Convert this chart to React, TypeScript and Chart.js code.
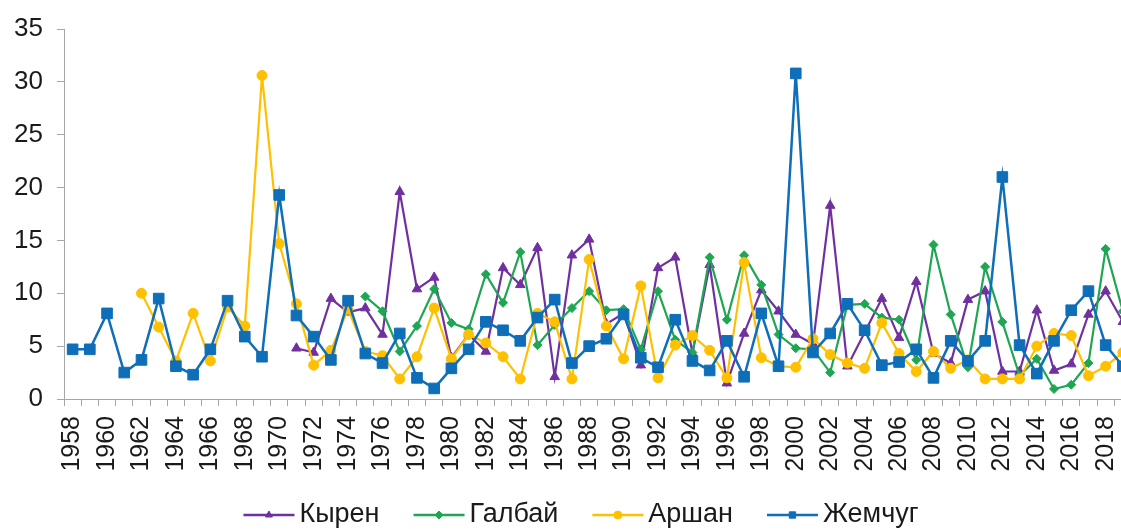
import React, { useEffect, useRef } from 'react';
import { Chart, registerables } from 'chart.js';
import { drawPoint } from 'chart.js/helpers';

Chart.register(...registerables);

const years: string[] = [
  '1958', '1959', '1960', '1961', '1962', '1963', '1964', '1965', '1966', '1967',
  '1968', '1969', '1970', '1971', '1972', '1973', '1974', '1975', '1976', '1977',
  '1978', '1979', '1980', '1981', '1982', '1983', '1984', '1985', '1986', '1987',
  '1988', '1989', '1990', '1991', '1992', '1993', '1994', '1995', '1996', '1997',
  '1998', '1999', '2000', '2001', '2002', '2003', '2004', '2005', '2006', '2007',
  '2008', '2009', '2010', '2011', '2012', '2013', '2014', '2015', '2016', '2017',
  '2018', '2019',
];

// 1958-1970 empty, data from 1971
const kyren: (number | null)[] = [
  null, null, null, null, null, null, null, null, null, null, null, null, null,
  4.8, 4.4, 9.5, 8.2, 8.6, 6.1, 19.6, 10.4, 11.5, 3.9,
  6.1, 4.5, 12.4, 10.8, 14.3, 2.1, 13.6, 15.1, 7.1, 8.1,
  3.2, 12.4, 13.4, 4.3, 12.7, 1.5, 6.2, 10.3, 8.3, 6.1,
  5.2, 18.3, 3.1, 6.3, 9.5, 5.8, 11.1, 4.3, 3.4, 9.4,
  10.2, 2.6, 2.6, 8.4, 2.7, 3.3, 8.0, 10.2, 7.3,
];

// 1958-1974 empty, data from 1975
const galbay: (number | null)[] = [
  null, null, null, null, null, null, null, null, null, null,
  null, null, null, null, null, null, null,
  9.7, 8.3, 4.5, 6.9, 10.4, 7.2, 6.6, 11.8, 9.1, 13.9,
  5.1, 7.0, 8.6, 10.2, 8.4, 8.5, 4.7, 10.2, 5.6, 4.4,
  13.4, 7.5, 13.6, 10.8, 6.1, 4.8, 4.7, 2.5, 8.9, 9.0,
  7.7, 7.5, 3.7, 14.6, 8.0, 3.0, 12.5, 7.3, 2.2, 3.8,
  0.95, 1.35, 3.4, 14.2, 8.3,
];

// 1958-1961 empty, data from 1962
const arshan: (number | null)[] = [
  null, null, null, null,
  10.0, 6.8, 3.6, 8.1, 3.6, 8.7, 6.9, 30.6, 14.7, 9.0,
  3.2, 4.6, 8.5, 4.5, 4.1, 1.9, 4.0, 8.6, 3.8, 6.1,
  5.3, 4.0, 1.9, 8.1, 7.3, 1.9, 13.2, 6.9, 3.8, 10.7,
  2.0, 5.1, 6.0, 4.6, 2.0, 12.9, 3.9, 3.1, 3.0, 5.7,
  4.2, 3.4, 2.9, 7.2, 4.3, 2.6, 4.5, 2.9, 3.7, 1.9,
  1.9, 1.9, 5.0, 6.2, 6.0, 2.2, 3.1, 4.4,
];

const zhemchug: number[] = [
  4.7, 4.7, 8.1, 2.5, 3.7, 9.5, 3.1, 2.3, 4.7, 9.3,
  5.9, 4.0, 19.3, 7.9, 5.9, 3.7, 9.3, 4.3, 3.4, 6.2,
  2.0, 1.0, 2.9, 4.7, 7.3, 6.5, 5.5, 7.7, 9.4, 3.4,
  5.0, 5.7, 8.0, 3.9, 3.0, 7.5, 3.6, 2.7, 5.5, 2.1,
  8.1, 3.1, 30.8, 4.4, 6.2, 9.0, 6.5, 3.2, 3.5, 4.7,
  2.0, 5.5, 3.6, 5.5, 21.0, 5.1, 2.4, 5.5, 8.4, 10.2,
  5.1, 3.1,
];

const seriesNames = ['Кырен', 'Галбай', 'Аршан', 'Жемчуг'];
const yTicks = [0, 5, 10, 15, 20, 25, 30, 35];

const FONT = '"Liberation Sans", Arial, sans-serif';
const X_FONT_SIZE = 25;
const Y_FONT_SIZE = 26;
const LEGEND_FONT_SIZE = 27;
const TEXT_COLOR = '#1a1a1a';
const AXIS_COLOR = '#a6a6a6';

const COLORS = {
  kyren: '#7030A0',
  galbay: '#1FA653',
  arshan: '#FFC000',
  zhemchug: '#0E6EB8',
};

const LEGEND_CX = 581;
const LEGEND_Y = 515;
const LEGEND_LINE = 51;
const LEGEND_TEXT_GAP = 5;
const LEGEND_ITEM_GAP = 34;

const legendPlugin = {
  id: 'excelLegend',
  afterDraw(chart: any) {
    const ctx = chart.ctx as CanvasRenderingContext2D;
    ctx.save();
    ctx.font = `${LEGEND_FONT_SIZE}px ${FONT}`;
    const items = chart.data.datasets.map((ds: any) => ({
      label: ds.label as string,
      color: ds.borderColor as string,
      style: ds.pointStyle as string,
      w: ctx.measureText(ds.label).width,
    }));
    const total =
      items.reduce((s: number, it: any) => s + LEGEND_LINE + LEGEND_TEXT_GAP + it.w, 0) +
      LEGEND_ITEM_GAP * (items.length - 1);
    let x = LEGEND_CX - total / 2;
    const y = LEGEND_Y;
    for (const it of items) {
      ctx.strokeStyle = it.color;
      ctx.lineWidth = 2.5;
      ctx.beginPath();
      ctx.moveTo(x, y);
      ctx.lineTo(x + LEGEND_LINE, y);
      ctx.stroke();
      ctx.fillStyle = it.color;
      ctx.strokeStyle = it.color;
      ctx.lineWidth = 1;
      drawPoint(
        ctx,
        { pointStyle: it.style, radius: it.style === 'rect' ? 4.5 : 4, rotation: 0, borderWidth: 1 } as any,
        x + LEGEND_LINE / 2,
        y
      );
      ctx.fillStyle = TEXT_COLOR;
      ctx.textBaseline = 'middle';
      ctx.textAlign = 'left';
      ctx.fillText(it.label, x + LEGEND_LINE + LEGEND_TEXT_GAP, y);
      x += LEGEND_LINE + LEGEND_TEXT_GAP + it.w + LEGEND_ITEM_GAP;
    }
    ctx.restore();
  },
};

export default function App() {
  const canvasRef = useRef<HTMLCanvasElement | null>(null);

  useEffect(() => {
    if (!canvasRef.current) return;
    const chart = new Chart(canvasRef.current, {
      type: 'line',
      data: {
        labels: years,
        datasets: [
          {
            label: seriesNames[0],
            data: kyren,
            borderColor: COLORS.kyren,
            backgroundColor: COLORS.kyren,
            pointBackgroundColor: COLORS.kyren,
            pointBorderColor: COLORS.kyren,
            pointStyle: 'triangle',
            pointRadius: 5.5,
            borderWidth: 2.2,
            pointBorderWidth: 1,
            order: 4,
          },
          {
            label: seriesNames[1],
            data: galbay,
            borderColor: COLORS.galbay,
            backgroundColor: COLORS.galbay,
            pointBackgroundColor: COLORS.galbay,
            pointBorderColor: COLORS.galbay,
            pointStyle: 'rectRot',
            pointRadius: 4.5,
            borderWidth: 2.2,
            pointBorderWidth: 1,
            order: 3,
          },
          {
            label: seriesNames[2],
            data: arshan,
            borderColor: COLORS.arshan,
            backgroundColor: COLORS.arshan,
            pointBackgroundColor: COLORS.arshan,
            pointBorderColor: COLORS.arshan,
            pointStyle: 'circle',
            pointRadius: 5,
            borderWidth: 2.2,
            pointBorderWidth: 1,
            order: 2,
          },
          {
            label: seriesNames[3],
            data: zhemchug,
            borderColor: COLORS.zhemchug,
            backgroundColor: COLORS.zhemchug,
            pointBackgroundColor: COLORS.zhemchug,
            pointBorderColor: COLORS.zhemchug,
            pointStyle: 'rect',
            pointRadius: 7.5,
            borderWidth: 2.5,
            pointBorderWidth: 1,
            order: 1,
          },
        ],
      },
      options: {
        responsive: false,
        animation: false,
        events: [],
        layout: { padding: { left: 15, right: 8, top: 29, bottom: 56 } },
        plugins: {
          legend: { display: false },
          tooltip: { enabled: false },
          title: { display: false },
        },
        elements: { line: { tension: 0 } },
        scales: {
          x: {
            type: 'category',
            offset: true,
            grid: {
              display: true,
              offset: true,
              drawOnChartArea: false,
              drawTicks: true,
              tickLength: 7,
              color: AXIS_COLOR,
              lineWidth: 1,
            },
            border: { display: true, color: AXIS_COLOR, width: 1 },
            afterFit: (scale: any) => {
              scale.height = 74;
              scale.paddingLeft = 0;
              scale.paddingRight = 0;
            },
            ticks: {
              autoSkip: false,
              maxRotation: 90,
              minRotation: 90,
              padding: 10,
              color: TEXT_COLOR,
              font: { family: FONT, size: X_FONT_SIZE },
              callback: (_v: any, idx: number) => (idx % 2 === 0 ? years[idx] : ''),
            },
          },
          y: {
            min: yTicks[0],
            max: yTicks[yTicks.length - 1],
            grid: {
              display: true,
              drawOnChartArea: false,
              drawTicks: true,
              tickLength: 7,
              color: AXIS_COLOR,
              lineWidth: 1,
            },
            border: { display: true, color: AXIS_COLOR, width: 1 },
            afterBuildTicks: (scale: any) => {
              scale.ticks = yTicks.map((v) => ({ value: v }));
            },
            afterFit: (scale: any) => {
              scale.width = 49;
              scale.paddingTop = 0;
              scale.paddingBottom = 0;
            },
            ticks: {
              padding: 14,
              color: TEXT_COLOR,
              font: { family: FONT, size: Y_FONT_SIZE },
            },
          },
        },
      },
      plugins: [legendPlugin],
    } as any);
    return () => chart.destroy();
  }, []);

  return (
    <div
      style={{
        position: 'fixed',
        left: 0,
        top: 0,
        width: 1121,
        height: 529,
        overflow: 'hidden',
        background: '#ffffff',
      }}
    >
      <canvas ref={canvasRef} width={1140} height={529} style={{ width: 1140, height: 529, display: 'block' }} />
    </div>
  );
}
